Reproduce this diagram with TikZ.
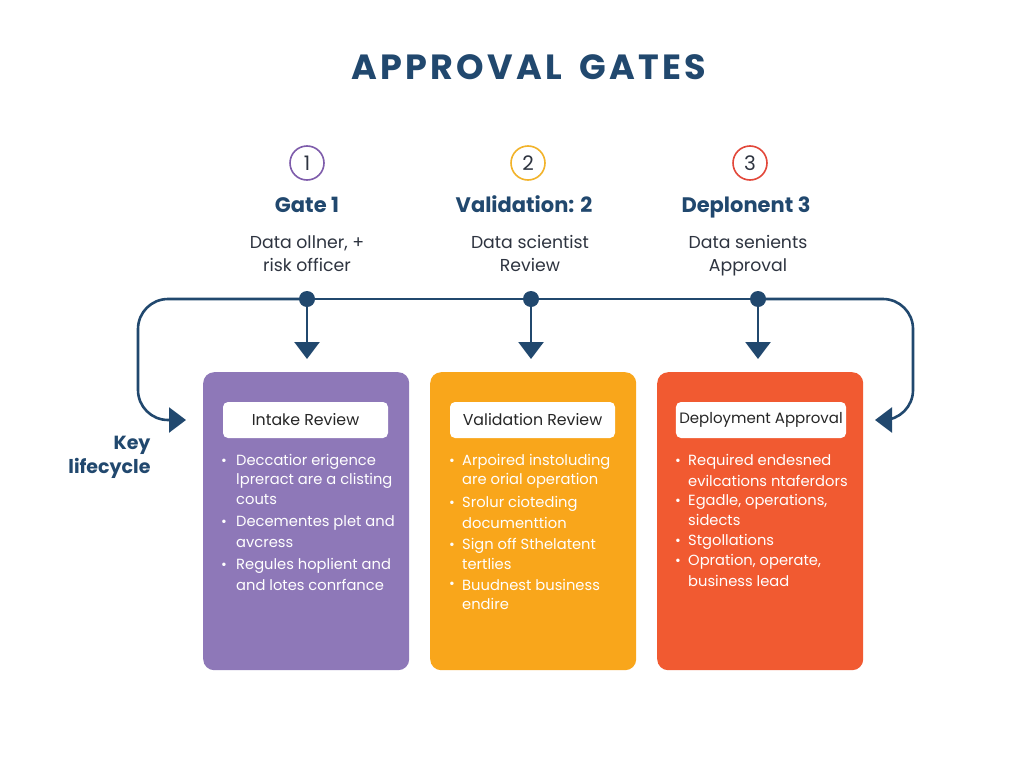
\documentclass[tikz,border=0pt]{standalone}
\usepackage{fontspec}
\setmainfont{Poppins}
\usetikzlibrary{arrows.meta}
\definecolor{navy}{HTML}{21486E}
\definecolor{txt}{HTML}{2E3440}
\definecolor{cpurple}{HTML}{8E78B8}
\definecolor{corange}{HTML}{F9A61B}
\definecolor{cred}{HTML}{F15A31}
\definecolor{ringp}{HTML}{7E5CAB}
\definecolor{ringy}{HTML}{F2B32A}
\definecolor{ringr}{HTML}{E2473A}
\tikzset{
  flow/.style={draw=navy, line width=2.6pt, rounded corners=30pt},
  tip/.style={-{Triangle[length=17pt,width=25pt]}},
  dot/.style={circle, fill=navy, minimum size=16pt, inner sep=0pt},
  ring/.style={circle, draw, line width=1.6pt, minimum size=34pt, inner sep=0pt, font=\fontsize{20}{22}\selectfont, text=txt},
  gatetitle/.style={anchor=base, font=\fontsize{21}{24}\selectfont\bfseries, text=navy},
  sub/.style={anchor=base, font=\fontsize{17.3}{23}\selectfont, text=txt, align=center},
  card/.style={rounded corners=11pt, minimum width=206pt, minimum height=298pt, anchor=north west},
  label/.style={fill=white, rounded corners=5pt, minimum width=165pt, minimum height=36pt, font=\fontsize{15.8}{17}\selectfont, text=black!85},
  li/.style={anchor=west, font=\fontsize{14.7}{16}\selectfont, text=white, inner sep=0pt},
  bul/.style={anchor=center, font=\fontsize{14}{16}\selectfont, text=white, inner sep=0pt},
}
\begin{document}
\begin{tikzpicture}[x=1pt,y=-1pt]
\useasboundingbox (0,0) rectangle (1024,768);
\fill[white] (0,0) rectangle (1024,768);

\node[font=\fontsize{35}{40}\selectfont\bfseries\addfontfeatures{LetterSpace=9}, text=navy] (title) at (529,67) {APPROVAL\hspace{18pt}GATES};

% rings
\node[ring, draw=ringp] (r1) at (307,163) {1};
\node[ring, draw=ringy] (r2) at (528,163) {2};
\node[ring, draw=ringr] (r3) at (750,163) {3};

\node[gatetitle] (g1) at (307,212) {Gate 1};
\node[gatetitle] (g2) at (524,212) {Validation: 2};
\node[gatetitle] (g3) at (746,212) {Deplonent 3};

\node[sub] (s1) at (307,271) {Data ollner, +\\risk officer};
\node[sub] (s2) at (530,271) {Data scientist\\Review};
\node[sub] (s3) at (748,271) {Data senients\\Approval};

% cards
\node[card, fill=cpurple] (c1) at (203,372) {};
\node[card, fill=corange] (c2) at (430,372) {};
\node[card, fill=cred] (c3) at (657,372) {};

\node[label] (l1) at (305.5,420) {Intake Review};
\node[label] (l2) at (532.5,420) {Validation Review};
\node[label, minimum width=168pt, font=\fontsize{15}{17}\selectfont] (l3) at (761,420) {Deployment Approval};

% dots and arrows
\node[dot] (d1) at (307,299) {};
\node[dot] (d2) at (531,299) {};
\node[dot] (d3) at (758,299) {};
\coordinate (a1) at (307,359);
\coordinate (a2) at (531,359);
\coordinate (a3) at (758,359);
\draw[navy, line width=2.6pt, tip] (d1.center) -- (a1);
\draw[navy, line width=2.6pt, tip] (d2.center) -- (a2);
\draw[navy, line width=2.6pt, tip] (d3.center) -- (a3);
\draw[flow] (d1.center) -- (d3.center);

\coordinate (inL) at (186,420);
\coordinate (inR) at (875,420);
\draw[flow, tip] (d1.center) -- (138,299) -- (138,420) -- (inL);
\draw[flow, tip] (d3.center) -- (913,299) -- (913,420) -- (inR);

\node[font=\fontsize{19}{24}\selectfont\bfseries, text=navy, align=right, anchor=east] (key) at (154,457) {Key\\lifecycle};

% card 1 bullets
\foreach \y in {462,523,566} \node[bul] at (224,\y) {•};
\node[li] at (236,462) {Deccatior erigence};
\node[li] at (236,481) {lpreract are a clisting};
\node[li] at (236,500) {couts};
\node[li] at (236,523) {Decementes plet and};
\node[li] at (236,543) {avcress};
\node[li] at (236,566) {Regules hoplient and};
\node[li] at (236,585) {and lotes conrfance};

% card 2 bullets
\foreach \y in {462,504,546,585} \node[bul] at (452,\y) {•};
\node[li] at (462,462) {Arpoired instoluding};
\node[li] at (462,481) {are orial operation};
\node[li] at (462,504) {Srolur cioteding};
\node[li] at (462,523) {documenttion};
\node[li] at (462,546) {Sign off Sthelatent};
\node[li] at (462,564) {tertlies};
\node[li] at (462,585) {Buudnest business};
\node[li] at (462,604) {endire};

% card 3 bullets
\foreach \y in {462,502,542,562} \node[bul] at (678,\y) {•};
\node[li] at (688,462) {Required endesned};
\node[li] at (688,481) {evilcations ntaferdors};
\node[li] at (688,502) {Egadle, operations,};
\node[li] at (688,520) {sidects};
\node[li] at (688,542) {Stgollations};
\node[li] at (688,562) {Opration, operate,};
\node[li] at (688,581) {business lead};
\end{tikzpicture}
\end{document}
